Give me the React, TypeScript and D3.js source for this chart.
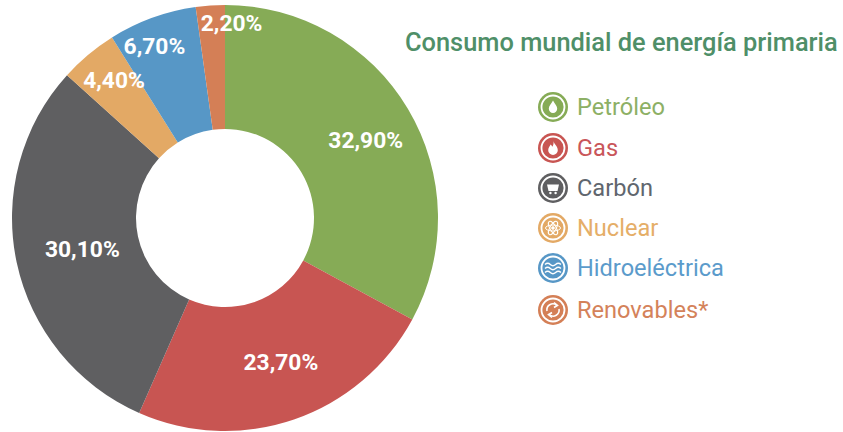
import React from "react";
import * as d3 from "d3";

const categories = ["Petróleo", "Gas", "Carbón", "Nuclear", "Hidroeléctrica", "Renovables*"];
const shares = [32.9, 23.7, 30.1, 4.4, 6.7, 2.2];
const shareLabels = ["32,90%", "23,70%", "30,10%", "4,40%", "6,70%", "2,20%"];
const colors = ["#86AB56", "#C85552", "#5F5F61", "#E3A965", "#5797C6", "#D47F56"];
const textColors = ["#8DB065", "#C9565A", "#60666E", "#E5AE68", "#5B9BCB", "#D4825A"];
const iconKinds = ["drop", "flame", "coal", "atom", "wave", "cycle"];
const labelNudges: [number, number][] = [[11, 0], [7, 2], [5, 0], [-14, -22], [-19, -30], [17, -44]];
const legendRows = [107, 148, 188, 228, 268, 310];

const FONT = "Roboto, sans-serif";

function Glyph({ kind }: { kind: string }) {
  const w = { fill: "none", stroke: "#fff", strokeWidth: 1.4 };
  if (kind === "drop") return <path d="M0,-6.5C2,-3 4.2,-1 4.2,1.8A4.2,4.2 0 0 1 -4.2,1.8C-4.2,-1 -2,-3 0,-6.5Z" fill="#fff" />;
  if (kind === "flame") return <path d="M0.5,-7C1,-3.5 4.8,-2 4.8,2.2A4.8,4.8 0 0 1 -4.8,2.2C-4.8,-0.5 -3,-1.5 -2.5,-3.5C-1.5,-2.8 -1,-2 -0.8,-1.2C0.4,-2.5 0.8,-4.5 0.5,-7Z" fill="#fff" />;
  if (kind === "coal") return (
    <g>
      <path d="M-6,-3.5H6L4.5,3H-4.5Z" fill="#fff" />
      <circle cx={-2.6} cy={5} r={1.2} fill="#fff" />
      <circle cx={2.6} cy={5} r={1.2} fill="#fff" />
    </g>
  );
  if (kind === "atom") return (
    <g {...w} strokeWidth={1}>
      <ellipse rx={7.5} ry={3} />
      <ellipse rx={7.5} ry={3} transform="rotate(60)" />
      <ellipse rx={7.5} ry={3} transform="rotate(-60)" />
      <circle r={1.3} fill="#fff" />
    </g>
  );
  if (kind === "wave") return (
    <g {...w}>
      <path d="M-8,-3.5q2.7,-2.5 5.3,0t5.3,0t5.3,0" />
      <path d="M-8,0.5q2.7,-2.5 5.3,0t5.3,0t5.3,0" />
      <path d="M-8,4.5q2.7,-2.5 5.3,0t5.3,0t5.3,0" />
    </g>
  );
  return (
    <g {...w} strokeWidth={1.6}>
      <path d="M-6,1A6,6 0 0 1 3.5,-4.9" />
      <path d="M6,-1A6,6 0 0 1 -3.5,4.9" />
      <path d="M1,-7.5L4.5,-4.7L1,-2.5" />
      <path d="M-1,7.5L-4.5,4.7L-1,2.5" />
    </g>
  );
}

export default function App() {
  const cx = 225, cy = 218, outer = 213, inner = 89;
  const pie = d3.pie<number>().sort(null).startAngle(0).endAngle(2 * Math.PI);
  const arcs = pie(shares);
  const arc = d3.arc<d3.PieArcDatum<number>>().innerRadius(inner).outerRadius(outer);
  return (
    <svg width={843} height={432} style={{ position: "fixed", left: 0, top: 0, background: "#fff" }}>
      <g transform={`translate(${cx},${cy})`}>
        {arcs.map((a, i) => <path key={i} d={arc(a) ?? ""} fill={colors[i]} />)}
        {arcs.map((a, i) => {
          const [x, y] = arc.centroid(a);
          return (
            <text key={i} x={x + labelNudges[i][0]} y={y + labelNudges[i][1]} textAnchor="middle" dominantBaseline="central"
              fontFamily={FONT} fontWeight={700} fontSize={22.8} fill="#fff">
              {shareLabels[i]}
            </text>
          );
        })}
      </g>
      <text x={405} y={51} fontFamily={FONT} fontWeight={500} fontSize={25.4} fill="#4F8F68">
        Consumo mundial de energía primaria
      </text>
      {categories.map((c, i) => (
        <g key={c}>
          <g transform={`translate(553,${legendRows[i]})`}>
            <circle r={15} fill={colors[i]} />
            <circle r={11.5} fill="none" stroke="#fff" strokeWidth={1.8} />
            <Glyph kind={iconKinds[i]} />
          </g>
          <text x={577} y={legendRows[i]} dominantBaseline="central" fontFamily={FONT} fontWeight={400} fontSize={23.6} fill={textColors[i]}>
            {c}
          </text>
        </g>
      ))}
    </svg>
  );
}
